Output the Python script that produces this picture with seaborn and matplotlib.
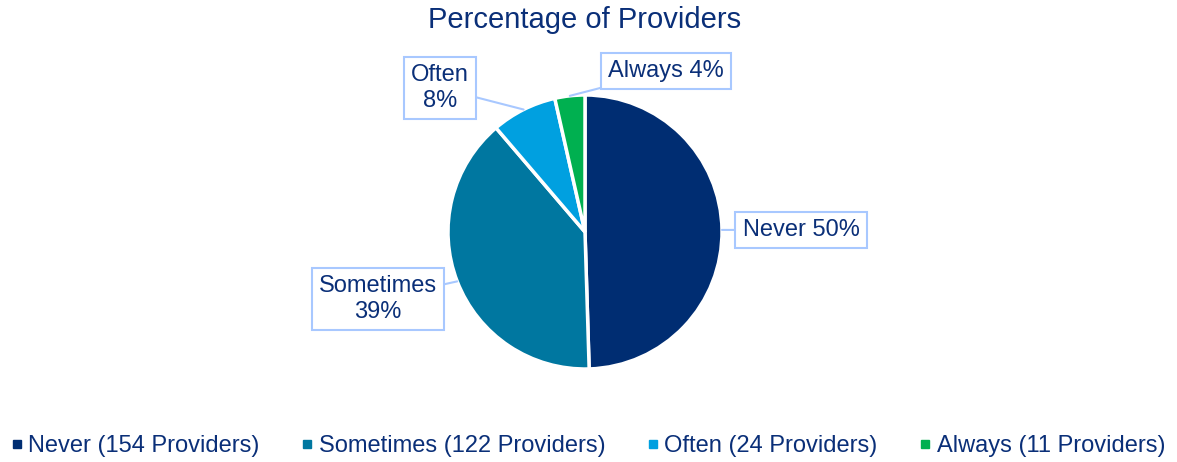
import numpy as np
import matplotlib
matplotlib.use("Agg")
from matplotlib import pyplot as plt
from matplotlib.lines import Line2D
import seaborn as sns

# data
categories = ['Never', 'Sometimes', 'Often', 'Always']
providers = [154, 122, 24, 11]
pct_labels = ['Never 50%', 'Sometimes\n39%', 'Often\n8%', 'Always 4%']
colors = ['#002D72', '#0077A0', '#00A0E0', '#00B050']

navy = '#0A2F78'
box_col = '#A8C8FF'

sns.set_theme(style='white')
plt.rcParams['font.family'] = ['Liberation Sans', 'DejaVu Sans']

fig = plt.figure(figsize=(11.77, 4.62), dpi=100)
# pie centre ~ (585, 232) px, radius ~137 px
r_px = 137
cx, cy = 585, 232
ax = fig.add_axes([(cx - r_px) / 1177, (462 - cy - r_px) / 462, 2 * r_px / 1177, 2 * r_px / 462])

wedges, _ = ax.pie(providers, colors=colors, startangle=90, counterclock=False,
                   wedgeprops=dict(edgecolor='white', linewidth=2.5))
ax.set_xlim(-1, 1)
ax.set_ylim(-1, 1)
ax.set_aspect('equal')
ax.axis('off')

# callout label positions (figure px)
label_pos = [(801, 230), (378, 299), (440, 88), (666, 71)]
total = float(sum(providers))
ang = 90.0
for i, w in enumerate(wedges):
    frac = providers[i] / total
    mid = ang - frac * 360 / 2
    ang -= frac * 360
    ex = np.cos(np.radians(mid))
    ey = np.sin(np.radians(mid))
    lx, ly = label_pos[i]
    ax.annotate(pct_labels[i], xy=(ex, ey), xycoords='data',
                xytext=(lx / 1177, 1 - ly / 462), textcoords='figure fraction',
                ha='center', va='center', fontsize=17, color=navy, linespacing=1.22,
                bbox=dict(boxstyle='square,pad=0.3', fc='white', ec=box_col, lw=1.5),
                arrowprops=dict(arrowstyle='-', color=box_col, lw=1.5, shrinkA=0, shrinkB=0))

fig.text(585 / 1177, 1 - 20 / 462, 'Percentage of Providers', ha='center', va='center',
         fontsize=21, color=navy)

handles = [Line2D([0], [0], marker='s', linestyle='', markersize=5.5, color=c) for c in colors]
labels = ['%s (%d Providers)' % (c, n) for c, n in zip(categories, providers)]
leg = fig.legend(handles, labels, loc='center', bbox_to_anchor=(0.5, 1 - 446 / 462), ncol=4,
                 frameon=False, fontsize=17, handlelength=0.4, handletextpad=0.3,
                 columnspacing=1.8)
for t in leg.get_texts():
    t.set_color(navy)

fig.savefig('out.png', dpi=100)
